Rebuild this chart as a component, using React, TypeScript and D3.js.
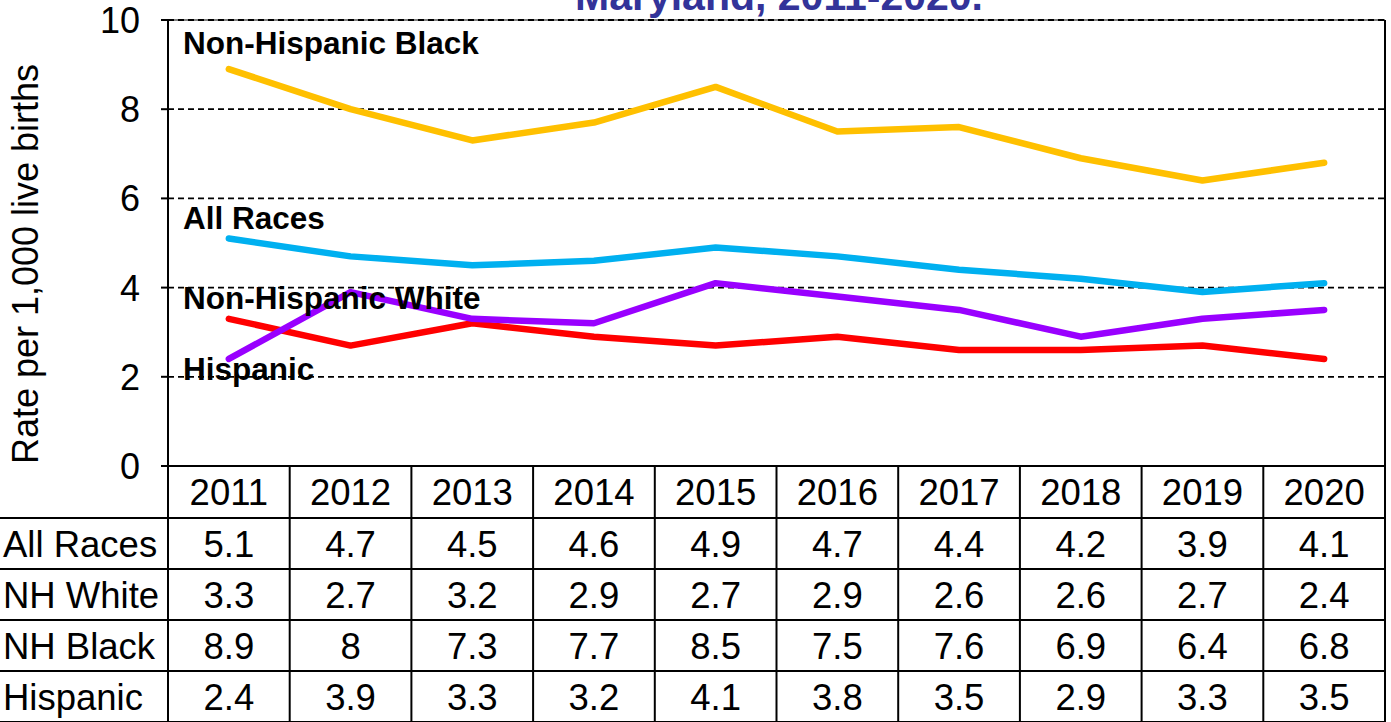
import React from "react";
import * as d3 from "d3";

const years = ["2011", "2012", "2013", "2014", "2015", "2016", "2017", "2018", "2019", "2020"];
const allRaces = [5.1, 4.7, 4.5, 4.6, 4.9, 4.7, 4.4, 4.2, 3.9, 4.1];
const nhWhite = [3.3, 2.7, 3.2, 2.9, 2.7, 2.9, 2.6, 2.6, 2.7, 2.4];
const nhBlack = [8.9, 8.0, 7.3, 7.7, 8.5, 7.5, 7.6, 6.9, 6.4, 6.8];
const hispanic = [2.4, 3.9, 3.3, 3.2, 4.1, 3.8, 3.5, 2.9, 3.3, 3.5];
const yTicks = [0, 2, 4, 6, 8, 10];
const rowNames = ["All Races", "NH White", "NH Black", "Hispanic"];
const rowData = [allRaces, nhWhite, nhBlack, hispanic];

const seriesList = [
  { name: "Non-Hispanic Black", values: nhBlack, color: "#FFC000", labelValue: 9.5 },
  { name: "All Races", values: allRaces, color: "#00B0F0", labelValue: 5.58 },
  { name: "Non-Hispanic White", values: nhWhite, color: "#FF0000", labelValue: 3.8 },
  { name: "Hispanic", values: hispanic, color: "#9900FF", labelValue: 2.2 },
];
// draw order: bottom to top
const drawOrder = [2, 3, 1, 0];

const W = 1391;
const H = 722;
const plotLeft = 168;
const plotRight = 1385;
const plotTop = 20;
const plotBottom = 466;
const headerBottom = 518;
const rowH = 51;
const font = "'Liberation Sans', Arial, Helvetica, sans-serif";

function fmt(v: number) {
  return Number.isInteger(v) ? String(v) : v.toFixed(1);
}

export default function App() {
  const x = d3.scaleBand<string>().domain(years).range([plotLeft, plotRight]);
  const y = d3.scaleLinear().domain([0, 10]).range([plotBottom, plotTop]);
  const line = d3
    .line<number>()
    .x((_, i) => (x(years[i]) as number) + x.bandwidth() / 2)
    .y((d) => y(d));

  const tableBottom = headerBottom + rowH * rowNames.length;

  return (
    <svg
      width={W}
      height={H}
      style={{ position: "absolute", left: 0, top: 0, background: "#fff" }}
      fontFamily={font}
    >
      <rect x={0} y={0} width={W} height={H} fill="#fff" />
      {/* Title (cut off at top, as in the reference) */}
      <text x={779} y={10} textAnchor="middle" fontSize={41} fontWeight="bold" fill="#333399">
        Maryland, 2011-2020.
      </text>

      {/* gridlines */}
      {yTicks
        .filter((t) => t > 0)
        .map((t) => (
          <line
            key={t}
            x1={plotLeft}
            x2={plotRight}
            y1={y(t)}
            y2={y(t)}
            stroke="#000"
            strokeWidth={1.8}
            strokeDasharray="6,4"
          />
        ))}
      {/* plot frame */}
      <line x1={plotLeft} x2={plotLeft} y1={plotTop} y2={tableBottom} stroke="#000" strokeWidth={2} />
      <line x1={plotRight} x2={plotRight} y1={plotTop} y2={tableBottom} stroke="#000" strokeWidth={2} />
      <line x1={plotLeft} x2={plotRight} y1={plotBottom} y2={plotBottom} stroke="#000" strokeWidth={2} />
      <line x1={plotLeft} x2={plotRight} y1={plotTop} y2={plotTop} stroke="#000" strokeWidth={1} />

      {/* y ticks */}
      {yTicks.map((t) => (
        <g key={"yt" + t}>
          <line x1={plotLeft - 7} x2={plotLeft} y1={y(t)} y2={y(t)} stroke="#000" strokeWidth={2} />
          <text x={140} y={y(t) + 13} textAnchor="end" fontSize={36} fill="#000">
            {t}
          </text>
        </g>
      ))}
      <text
        transform={`translate(38, ${(plotTop + plotBottom) / 2 + 21}) rotate(-90)`}
        textAnchor="middle"
        fontSize={36}
        fill="#000"
      >
        Rate per 1,000 live births
      </text>

      {/* series lines */}
      {drawOrder.map((si) => {
        const s = seriesList[si];
        return (
          <path
            key={s.name}
            d={line(s.values) as string}
            fill="none"
            stroke={s.color}
            strokeWidth={6.5}
            strokeLinejoin="round"
            strokeLinecap="round"
          />
        );
      })}

      {/* series labels */}
      {seriesList.map((s) => (
        <text
          key={"lab" + s.name}
          x={183}
          y={y(s.labelValue) + 12}
          fontSize={31.5}
          fontWeight="bold"
          fill="#000"
        >
          {s.name}
        </text>
      ))}

      {/* table header years */}
      {years.map((yr) => (
        <g key={"hdr" + yr}>
          <line
            x1={x(yr) as number}
            x2={x(yr) as number}
            y1={plotBottom}
            y2={tableBottom}
            stroke="#000"
            strokeWidth={2}
          />
          <text
            x={(x(yr) as number) + x.bandwidth() / 2}
            y={(plotBottom + headerBottom) / 2 + 13}
            textAnchor="middle"
            fontSize={36.5}
            fill="#000"
          >
            {yr}
          </text>
        </g>
      ))}
      {/* table rows */}
      {rowNames.map((rn, ri) => {
        const top = headerBottom + ri * rowH;
        return (
          <g key={"row" + rn}>
            <line x1={0} x2={plotRight} y1={top} y2={top} stroke="#000" strokeWidth={2} />
            <text x={3} y={top + rowH / 2 + 13} fontSize={36.5} fill="#000">
              {rn}
            </text>
            {rowData[ri].map((v, ci) => (
              <text
                key={ci}
                x={(x(years[ci]) as number) + x.bandwidth() / 2}
                y={top + rowH / 2 + 13}
                textAnchor="middle"
                fontSize={36.5}
                fill="#000"
              >
                {fmt(v)}
              </text>
            ))}
          </g>
        );
      })}
      <line x1={0} x2={plotRight} y1={tableBottom} y2={tableBottom} stroke="#000" strokeWidth={2} />
    </svg>
  );
}
